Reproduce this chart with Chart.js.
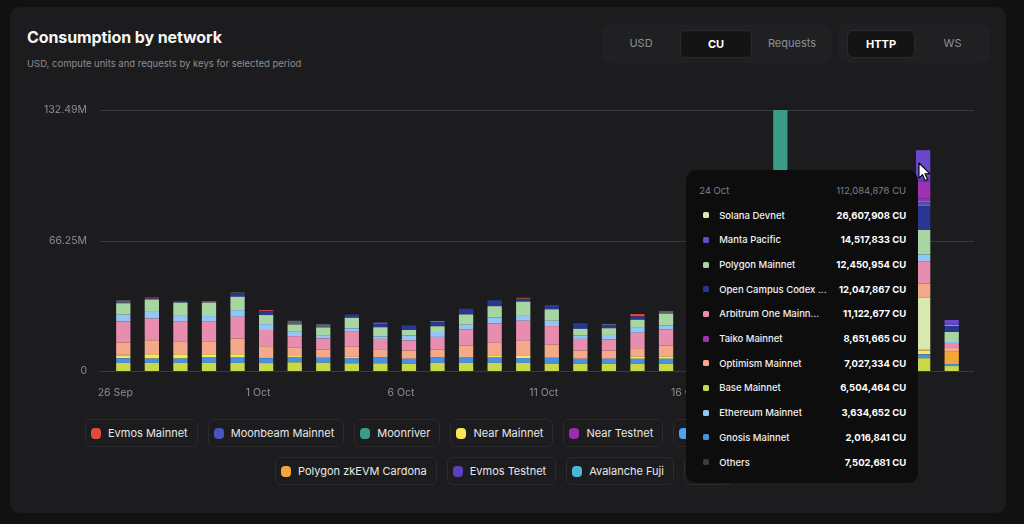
<!DOCTYPE html>
<html>
<head>
<meta charset="utf-8">
<title>Consumption by network</title>
<script src="https://cdn.jsdelivr.net/npm/chart.js@4.4.1/dist/chart.umd.min.js"></script>
<style>
  html, body { margin: 0; padding: 0; background: #111112; width: 1024px; height: 524px; overflow: hidden; font-family: Inter, "Noto Sans", sans-serif; }
  .card { position: absolute; left: 10px; top: 7px; width: 996px; height: 506px; background: #1c1c1e; border-radius: 10px; }
  .title { position: absolute; left: 27px; top: 27px; font-size: 16px; line-height: 20px; font-weight: 700; color: #f5f5f5; letter-spacing: -0.1px; }
  .subtitle { position: absolute; left: 27px; top: 58px; font-size: 9.5px; line-height: 12px; color: #8c8c90; }
  .group { position: absolute; top: 24px; height: 39px; background: #202022; border-radius: 8px; }
  .btn { position: absolute; top: 24px; height: 39px; line-height: 39px; text-align: center; font-size: 11px; color: #8e8e93; }
  .btn.on { top: 30px; height: 26px; line-height: 26px; background: #141415; border: 1px solid #2b2b2d; border-radius: 6px; color: #fff; font-weight: 700; }
  #chartBox { position: absolute; left: 30px; top: 95px; width: 956px; height: 310px; }
  .legendRow { position: absolute; display: flex; gap: 10px; }
  .item { box-sizing: border-box; height: 28px; display: flex; align-items: center; padding: 0 9px 0 5px; border: 1px solid #2a2a2c; border-radius: 6px; font-size: 11px; color: #e8e8e8; white-space: nowrap; }
  .item .dot { width: 10px; height: 11px; border-radius: 4px; margin-right: 7px; }
  #tooltip { position: absolute; width: 232px; height: 313px; box-sizing: border-box; background: #0d0d0e; border-radius: 10px; padding: 10px 12px 0 13px; z-index: 5; }
  #tooltip .head { height: 20px; display: flex; justify-content: space-between; align-items: center; font-size: 9.5px; color: #7f7f83; }
  #tooltip .rows { margin-top: 2.6px; padding-left: 4px; }
  #tooltip .row { height: 24.7px; display: flex; align-items: center; font-size: 9.5px; white-space: nowrap; }
  #tooltip .row .dot { flex: none; width: 6px; height: 6px; border-radius: 1.5px; margin-right: 10px; }
  #tooltip .row .name { flex: 1; overflow: hidden; color: #f0f0f0; font-weight: 500; }
  #tooltip .row .val { flex: none; color: #fff; font-weight: 700; }
  #pointer { position: absolute; left: 918px; top: 162px; z-index: 6; }
</style>
</head>
<body>
<div class="card"></div>
<div class="title">Consumption by network</div>
<div class="subtitle">USD, compute units and requests by keys for selected period</div>

<div class="group" style="left:602px; width:230px;"></div>
<div class="btn" style="left:602px; width:78px;">USD</div>
<div class="btn on" style="left:680px; width:70px;">CU</div>
<div class="btn" style="left:752px; width:80px;">Requests</div>
<div class="group" style="left:838px; width:152px;"></div>
<div class="btn on" style="left:847px; width:66px;">HTTP</div>
<div class="btn" style="left:915px; width:75px;">WS</div>

<div id="chartBox"><canvas id="chart" width="956" height="310"></canvas></div>
<div class="legendRow" id="legend1" style="left:85px; top:419px;"></div>
<div class="legendRow" id="legend2" style="left:275px; top:457px;"></div>
<div id="tooltip"></div>
<!-- mouse pointer over the hovered bar -->
<svg id="pointer" width="14" height="20" viewBox="0 0 14 20">
  <path d="M1 1 L1 16 L4.6 12.6 L7.2 18.6 L9.6 17.6 L7 11.8 L12 11.8 Z" fill="#ffffff" stroke="#000000" stroke-width="1.1" stroke-linejoin="round"/>
</svg>

<script>
// Days on the x axis
const dates = [
  '26 Sep', '27 Sep', '28 Sep', '29 Sep', '30 Sep',
  '1 Oct', '2 Oct', '3 Oct', '4 Oct', '5 Oct', '6 Oct', '7 Oct', '8 Oct', '9 Oct', '10 Oct',
  '11 Oct', '12 Oct', '13 Oct', '14 Oct', '15 Oct', '16 Oct', '17 Oct', '18 Oct', '19 Oct', '20 Oct',
  '21 Oct', '22 Oct', '23 Oct', '24 Oct', '25 Oct'
];

// Compute units per network, millions of CU (stack order, bottom first)
const baseMainnet     = [4.1, 4.1, 4.1, 4.1, 4.1, 4.0, 4.4, 4.2, 3.9, 3.9, 3.7, 4.1, 4.1, 4.1, 4.1, 3.7, 3.7, 3.7, 3.7, 3.7, 3.9, 4.0, 3.8, 4.2, 4.1, 3.9, 4.3, 4.4, 6.504464, 2.5];
const gnosisMainnet   = [2.4, 2.2, 2.2, 3.0, 2.7, 2.5, 2.7, 2.5, 2.5, 2.9, 2.5, 2.7, 3.0, 2.7, 2.5, 3.0, 2.5, 2.5, 2.5, 2.5, 2.6, 2.7, 2.5, 2.9, 2.8, 2.6, 2.7, 2.9, 2.016841, 1.0];
const nearMainnet     = [1.3, 2.2, 2.2, 1.4, 1.7, 0.5, 0.5, 0, 0.8, 0, 0, 0, 0, 1.2, 1.4, 0, 0, 0, 1.2, 1.2, 0.8, 0.6, 0.4, 0.9, 0.7, 0.5, 0.8, 1.1, 1.914530, 0];
const zkevmCardona    = [0, 0, 0, 0, 0, 0, 0, 0, 0, 0, 0, 0, 0, 0, 0, 0, 0, 0, 0, 0, 0, 0, 0, 0, 0, 0, 0, 0.4, 0.305112, 6.6];
const solanaDevnet    = [0.4, 0, 0, 0, 0, 0, 0, 0, 0, 0, 0, 0, 0, 0, 0, 0, 0, 0, 0, 0, 0, 0, 0, 0, 0.8, 1.5, 2.2, 3.0, 26.607908, 0];
const optimismMainnet = [6.3, 7.1, 6.3, 6.3, 8.0, 5.6, 4.2, 4.2, 5.1, 3.9, 4.2, 4.1, 5.9, 6.3, 7.3, 6.8, 4.2, 4.2, 4.2, 5.6, 5.4, 4.8, 5.0, 5.7, 4.6, 4.4, 5.2, 5.8, 7.027334, 2.0];
const arbitrumOne     = [10.7, 11.0, 10.2, 10.2, 11.0, 8.2, 5.9, 5.6, 7.6, 5.6, 5.1, 6.4, 8.0, 9.8, 10.2, 9.3, 5.9, 5.7, 7.8, 8.0, 8.3, 7.2, 7.5, 8.6, 6.9, 6.6, 7.8, 8.9, 11.122677, 2.1];
const ethereumMainnet = [3.4, 3.4, 3.4, 2.9, 3.4, 3.0, 2.2, 1.7, 1.7, 1.2, 2.5, 2.5, 2.5, 3.0, 2.9, 2.7, 1.7, 2.2, 2.5, 2.2, 2.4, 2.1, 2.3, 2.6, 2.2, 2.0, 2.5, 2.8, 3.634652, 0.5];
const polygonMainnet  = [5.8, 6.3, 6.3, 6.8, 6.8, 4.6, 3.7, 3.9, 5.4, 4.7, 2.8, 2.9, 5.2, 5.8, 6.8, 5.8, 3.4, 3.4, 4.1, 5.9, 5.5, 4.9, 5.2, 6.0, 4.8, 4.5, 5.6, 6.4, 12.450954, 5.1];
const openCampus      = [0.2, 0.5, 0.8, 0, 1.7, 2.0, 0, 0, 1.7, 1.6, 2.4, 2.2, 2.9, 3.0, 1.2, 2.2, 2.9, 1.4, 1.7, 0, 2.1, 2.4, 1.8, 2.3, 2.7, 3.1, 3.6, 4.2, 12.047867, 3.0];
const evmosMainnet    = [0, 0.5, 0, 0, 0, 0.5, 0, 0, 0, 0, 0, 0.5, 0, 0, 0.4, 0, 0, 0, 1.2, 0, 0.3, 0, 0.2, 0.3, 0, 0.2, 0.4, 0.3, 0.612408, 0];
const lineaMainnet    = [1.3, 0, 0, 0.8, 0.5, 0, 1.9, 1.7, 0, 0, 0, 0, 0, 0, 0.4, 0, 0, 0.8, 0, 1.4, 0, 0.5, 0, 0, 0.6, 0, 0, 0, 0, 0];
const moonbeamMainnet = [0, 0, 0, 0, 0, 0, 0, 0, 0, 0, 0, 0, 0, 0, 0, 0, 0, 0, 0, 0, 0.3, 0, 0.4, 0, 0, 0.5, 0.6, 0.8, 1.380215, 0];
const avalancheFuji   = [0, 0, 0, 0, 0, 0, 0, 0, 0, 0, 0, 0, 0, 0, 0, 0, 0, 0, 0, 0, 0, 0, 0, 0, 0.2, 0, 0, 0.3, 0.542318, 0.6];
const nearTestnet     = [0, 0, 0, 0, 0, 0, 0, 0, 0, 0, 0, 0, 0, 0, 0, 0, 0, 0, 0, 0, 0, 0, 0, 0, 0, 0, 0.5, 0.7, 1.320774, 0];
const taikoMainnet    = [0, 0, 0, 0, 0, 0, 0, 0, 0, 0, 0, 0, 0, 0, 0, 0, 0, 0, 0, 0, 0, 0, 0, 0, 0, 0.6, 1.2, 2.0, 8.651665, 0];
const evmosTestnet    = [0, 0, 0, 0, 0, 0, 0, 0, 0, 0, 0, 0, 0, 0, 0, 0, 0, 0, 0, 0, 0, 0, 0, 0, 0, 0, 0, 0.5, 1.427324, 0.5];
const mantaPacific    = [0, 0, 0, 0, 0, 0, 0, 0, 0, 0.8, 0, 0, 0, 0, 0, 0, 0, 0, 0, 0, 0, 0, 0, 0, 0.5, 1.0, 1.8, 3.0, 14.517833, 2.0];
const gnosisChiado    = [0, 0, 0, 0, 0, 0, 0, 0, 0, 0, 0, 0, 0, 0, 0, 0, 0, 0, 0, 0, 0, 0.3, 0, 0, 0, 0, 0, 0, 0, 0];
const seiNetwork      = [0, 0, 0, 0, 0, 0, 0, 0, 0, 0, 0, 0, 0, 0, 0, 0, 0, 0, 0, 0, 0, 0, 0, 0, 0.3, 0, 0, 0, 0, 0];
const moonriver       = [0, 0, 0, 0, 0, 0, 0, 0, 0, 0, 0, 0, 0, 0, 0, 0, 0, 0, 0, 0, 0, 0, 0, 98.9934, 0, 0, 0, 0, 0, 0];

// Networks in stack order with their colours
const networks = [
  { name: 'Base Mainnet', color: '#c9d84b', data: baseMainnet },
  { name: 'Gnosis Mainnet', color: '#4a8fe0', data: gnosisMainnet },
  { name: 'Near Mainnet', color: '#fbe55a', data: nearMainnet },
  { name: 'Polygon zkEVM Cardona', color: '#f4a63a', data: zkevmCardona },
  { name: 'Solana Devnet', color: '#d9e8ae', data: solanaDevnet },
  { name: 'Optimism Mainnet', color: '#f5a98b', data: optimismMainnet },
  { name: 'Arbitrum One Mainnet', color: '#e98db0', data: arbitrumOne },
  { name: 'Ethereum Mainnet', color: '#93c6f4', data: ethereumMainnet },
  { name: 'Polygon Mainnet', color: '#a8d6a2', data: polygonMainnet },
  { name: 'Open Campus Codex Sepolia', color: '#2a3694', data: openCampus },
  { name: 'Evmos Mainnet', color: '#e4493b', data: evmosMainnet },
  { name: 'Linea Mainnet', color: '#59616b', data: lineaMainnet },
  { name: 'Moonbeam Mainnet', color: '#4b51bd', data: moonbeamMainnet },
  { name: 'Avalanche Fuji', color: '#4bb6d6', data: avalancheFuji },
  { name: 'Near Testnet', color: '#9b2cb2', data: nearTestnet },
  { name: 'Taiko Mainnet', color: '#9e32b4', data: taikoMainnet },
  { name: 'Evmos Testnet', color: '#5c40c4', data: evmosTestnet },
  { name: 'Manta Pacific', color: '#6a48c9', data: mantaPacific },
  { name: 'Gnosis Chiado', color: '#4aa3f2', data: gnosisChiado },
  { name: 'Sei', color: '#4cc28a', data: seiNetwork },
  { name: 'Moonriver', color: '#3b9b89', data: moonriver },
];

// Networks listed in the legend pills, two rows
const legendRow1 = ['Evmos Mainnet', 'Moonbeam Mainnet', 'Moonriver', 'Near Mainnet', 'Near Testnet', 'Gnosis Chiado', 'Linea Mainnet'];
const legendRow2 = ['Polygon zkEVM Cardona', 'Evmos Testnet', 'Avalanche Fuji', 'Sei'];

const hoveredDay = '24 Oct';

// Daily totals set the top of the value axis
const totals = dates.map((d, i) => networks.reduce((s, n) => s + n.data[i], 0));
const maxTotal = Math.max(...totals);

const formatM = (v) => v === 0 ? '0' : (v).toFixed(2) + 'M';
const formatCU = (v) => v.toLocaleString('en-US') + ' CU';
const shortName = (s) => s.length > 18 ? s.slice(0, 18) + '...' : s;

// Legend
function fillLegend(id, names) {
  const row = document.getElementById(id);
  names.forEach((name) => {
    const n = networks.find((x) => x.name === name);
    const item = document.createElement('div');
    item.className = 'item';
    item.innerHTML = `<span class="dot" style="background:${n.color}"></span>${name}`;
    row.appendChild(item);
  });
}
fillLegend('legend1', legendRow1);
fillLegend('legend2', legendRow2);

// Horizontal grid lines, a little wider than the plot area
const gridPlugin = {
  id: 'wideGrid',
  beforeDatasetsDraw(chart) {
    const { ctx, chartArea, scales } = chart;
    ctx.save();
    ctx.strokeStyle = '#3a3a3d';
    ctx.lineWidth = 1;
    scales.y.ticks.forEach((t) => {
      const y = Math.round(scales.y.getPixelForValue(t.value)) + 0.5;
      ctx.beginPath();
      ctx.moveTo(chartArea.left - 9, y);
      ctx.lineTo(chartArea.right + 8, y);
      ctx.stroke();
    });
    ctx.restore();
  },
};

// HTML tooltip: top ten networks, rest grouped into Others
function externalTooltip(context) {
  const { chart, tooltip } = context;
  const el = document.getElementById('tooltip');
  if (tooltip.opacity === 0 || !tooltip.dataPoints) {
    el.style.display = 'none';
    return;
  }
  const points = tooltip.dataPoints.filter((p) => p.raw > 0);
  const idx = points[0].dataIndex;
  const rows = points.map((p) => ({
    name: p.dataset.label,
    color: p.dataset.backgroundColor,
    value: Math.round(p.raw * 1e6),
  }));
  rows.sort((a, b) => b.value - a.value);
  const total = rows.reduce((s, r) => s + r.value, 0);
  const shown = rows.slice(0, 10);
  const others = total - shown.reduce((s, r) => s + r.value, 0);
  shown.push({ name: 'Others', color: '#3c3c3e', value: others });

  let html = `<div class="head"><span>${dates[idx]}</span><span>${formatCU(total)}</span></div><div class="rows">`;
  shown.forEach((r) => {
    html += `<div class="row"><span class="dot" style="background:${r.color}"></span><span class="name">${shortName(r.name)}</span><span class="val">${formatCU(r.value)}</span></div>`;
  });
  html += '</div>';
  el.innerHTML = html;

  const box = chart.canvas.parentNode;
  const bar = chart.getDatasetMeta(0).data[idx];
  const topY = chart.scales.y.getPixelForValue(totals[idx]);
  el.style.display = 'block';
  el.style.left = (box.offsetLeft + bar.x - 5 - 232) + 'px';
  el.style.top = (box.offsetTop + topY + 20) + 'px';
}

Chart.defaults.font.family = 'Inter';
Chart.defaults.color = '#8e8e92';

const chart = new Chart(document.getElementById('chart'), {
  type: 'bar',
  data: {
    labels: dates,
    datasets: networks.map((n) => ({
      label: n.name,
      data: n.data,
      backgroundColor: n.color,
      borderWidth: 0,
      barPercentage: 0.5,
      categoryPercentage: 1,
    })),
  },
  options: {
    responsive: false,
    animation: false,
    events: [],
    layout: { padding: { top: 15, right: 20, bottom: 0, left: 0 } },
    plugins: {
      legend: { display: false },
      tooltip: { enabled: false, mode: 'index', intersect: false, external: externalTooltip },
    },
    scales: {
      x: {
        stacked: true,
        grid: { display: false, drawTicks: false },
        border: { display: false },
        ticks: {
          autoSkip: false,
          maxRotation: 0,
          padding: 16,
          labelOffset: -8,
          font: { size: 10.5 },
          callback: (v, i) => (i % 5 === 0 ? dates[i] : ''),
        },
        afterFit: (scale) => { scale.height = 34; },
      },
      y: {
        stacked: true,
        min: 0,
        max: maxTotal,
        // tick marks are hidden; their length keeps labels off the plot
        grid: { display: false, drawTicks: true, tickLength: 22 },
        border: { display: false },
        ticks: { padding: 0, font: { size: 10.5 }, callback: (v) => formatM(v) },
        afterBuildTicks: (scale) => {
          scale.ticks = [0, maxTotal / 2, maxTotal].map((v) => ({ value: v }));
        },
        afterFit: (scale) => { scale.width = 79; },
      },
    },
  },
  plugins: [gridPlugin],
});

// Show the tooltip for the hovered day
const hoverIndex = dates.indexOf(hoveredDay);
chart.tooltip.setActiveElements(
  networks.map((n, i) => ({ datasetIndex: i, index: hoverIndex })),
  { x: 0, y: 0 }
);
chart.update();
</script>
</body>
</html>
